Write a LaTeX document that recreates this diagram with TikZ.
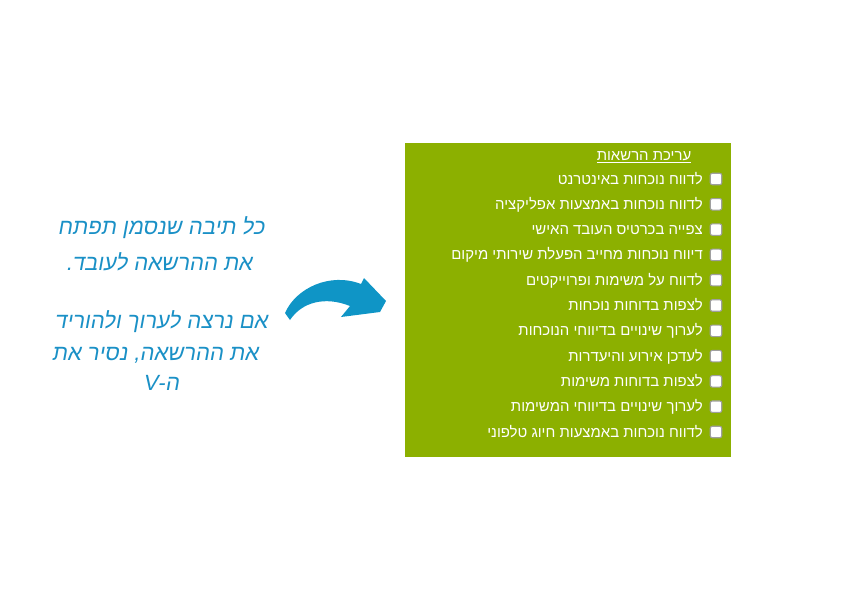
\documentclass[tikz,border=0pt]{standalone}
\usepackage{fontspec}
\newfontfamily\hebfont[Script=Hebrew]{Liberation Sans}
\newfontfamily\handfont[Script=Hebrew,FakeSlant=0.18]{Liberation Sans}
\TeXXeTstate=1
\usepackage{tikz}
\usetikzlibrary{positioning}

\definecolor{panelgreen}{HTML}{8CB000}
\definecolor{hintblue}{HTML}{1A90C6}
\definecolor{arrowblue}{HTML}{0F95C6}

\tikzset{
  panel/.style={fill=panelgreen, draw=none},
  permrow/.style={anchor=east, inner sep=0pt, text=white, font=\hebfont\fontsize{11.2}{13}\selectfont, text height=1.6ex, text depth=.3ex},
  permhead/.style={inner sep=0pt, text=white, font=\hebfont\fontsize{11.2}{13}\selectfont},
  chkbox/.style={draw=gray!75, fill=white, line width=.8pt, rounded corners=1.5pt, minimum size=8.6pt, inner sep=0pt},
  hint/.style={inner sep=0pt, text=hintblue, font=\handfont\fontsize{16.5}{18}\selectfont}
}

\begin{document}
\begin{tikzpicture}[x=0.75pt, y=-0.75pt]
    \useasboundingbox (0,0) rectangle (850,600);

    % Permissions panel
    \fill[panel] (405,143) rectangle (731,457);
    \node[permhead] (head) at (644,157) {\underline{\beginR עריכת הרשאות\endR}};

    % Rows: checkbox + label
    \foreach \txt [count=\i] in {
        לדווח נוכחות באינטרנט,
        לדווח נוכחות באמצעות אפליקציה,
        צפייה בכרטיס העובד האישי,
        דיווח נוכחות מחייב הפעלת שירותי מיקום,
        לדווח על משימות ופרוייקטים,
        לצפות בדוחות נוכחות,
        לערוך שינויים בדיווחי הנוכחות,
        לעדכן אירוע והיעדרות,
        לצפות בדוחות משימות,
        לערוך שינויים בדיווחי המשימות,
        לדווח נוכחות באמצעות חיוג טלפוני}
    {
        \node[chkbox] (chk\i) at (716,{179+(\i-1)*25.3}) {};
        \node[permrow, left=5pt of chk\i, yshift=-1pt] (row\i) {\beginR\txt\endR};
    }

    % Hint text
    \node[hint] (hint1) at (161,228) {\beginR כל תיבה שנסמן תפתח\endR};
    \node[hint] (hint2) at (159,262) {\beginR את ההרשאה לעובד.\endR};
    \node[hint] (hint3) at (161,322) {\beginR אם נרצה לערוך ולהוריד\endR};
    \node[hint] (hint4) at (155,355) {\beginR את ההרשאה, נסיר את\endR};
    \node[hint] (hint5) at (161,383) {\beginR ה\hbox{-}\hbox{V}\endR};

    % Curved arrow
    \fill[arrowblue] (285,313) .. controls (296,288) and (330,272) .. (361,284)
        -- (364,278) -- (386,301) -- (380,312) -- (341,317) -- (350,306)
        .. controls (325,296) and (302,302) .. (290,320) -- cycle;
\end{tikzpicture}
\end{document}
